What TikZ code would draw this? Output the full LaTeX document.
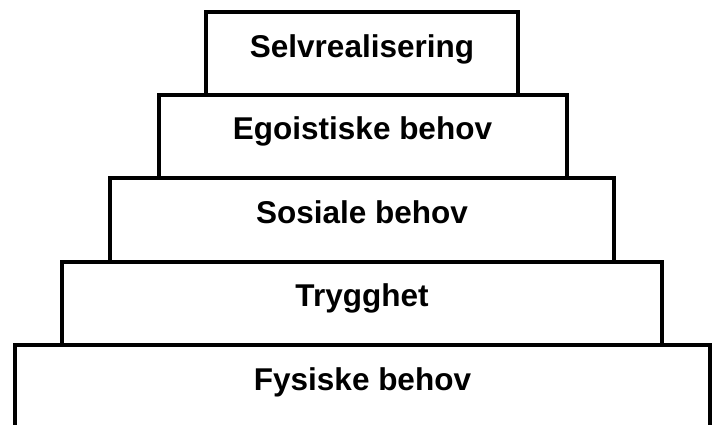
\documentclass[tikz,border=0pt]{standalone}
\usepackage{fontspec}
\setmainfont{Liberation Sans}
\begin{document}
\begin{tikzpicture}[x=1pt,y=-1pt,
  level/.style={draw=black,line width=4pt,rectangle,inner sep=0pt,outer sep=0pt},
  lab/.style={font=\fontsize{31.5}{36}\selectfont\bfseries,inner sep=0pt,anchor=base}]
\useasboundingbox (0,0) rectangle (718,425);
\node[level,minimum width=312pt,minimum height=83pt] (b1) at (362,53.5) {};
\node[level,minimum width=408pt,minimum height=83pt] (b2) at (362.5,136.5) {};
\node[level,minimum width=504pt,minimum height=83.5pt] (b3) at (362,219.75) {};
\node[level,minimum width=600pt,minimum height=83.5pt] (b4) at (362,303.25) {};
\node[rectangle,inner sep=0pt,outer sep=0pt,minimum width=695pt,minimum height=90pt] (b5) at (362.5,390) {};
\draw[line width=4pt] (b5.south west) -- (b5.north west) -- (b5.north east) -- (b5.south east);
\node[lab] (t1) at ([yshift=-45.5pt]b1.north) {Selvrealisering};
\node[lab] (t2) at ([yshift=-44.5pt]b2.north) {Egoistiske behov};
\node[lab] (t3) at ([yshift=-45pt]b3.north) {Sosiale behov};
\node[lab] (t4) at ([yshift=-45pt]b4.north) {Trygghet};
\node[lab] (t5) at ([yshift=-45pt]b5.north) {Fysiske behov};
\end{tikzpicture}
\end{document}
